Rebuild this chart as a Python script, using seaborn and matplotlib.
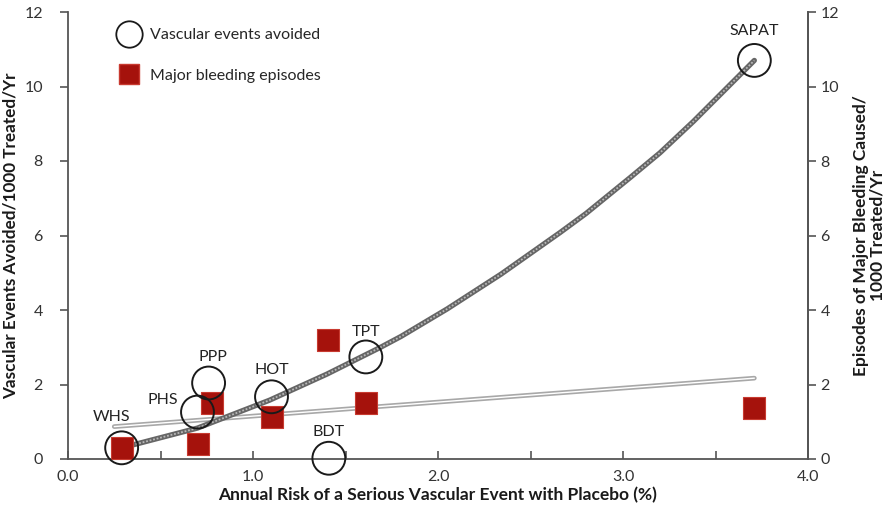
import matplotlib
matplotlib.use("Agg")
import matplotlib.pyplot as plt
import seaborn as sns
import pandas as pd
from matplotlib.lines import Line2D

# ---- data ----
trials = ["WHS", "PHS", "PPP", "HOT", "BDT", "TPT", "SAPAT"]
risk_events = [0.29, 0.70, 0.76, 1.10, 1.41, 1.61, 3.71]
events_avoided = [0.30, 1.26, 2.04, 1.67, 0.02, 2.74, 10.70]

risk_bleeding = [0.29, 0.70, 0.78, 1.10, 1.405, 1.61, 3.71]
bleeding = [0.30, 0.40, 1.50, 1.13, 3.19, 1.50, 1.37]

curve_x = [0.29, 0.70, 1.09, 1.40, 1.69, 1.80, 2.05, 2.34, 2.66, 2.80, 3.04, 3.20, 3.38, 3.71]
curve_y = [0.30, 0.83, 1.58, 2.28, 3.00, 3.29, 4.03, 4.96, 6.08, 6.59, 7.56, 8.22, 9.06, 10.70]

bleed_line_x = [0.25, 3.71]
bleed_line_y = [0.87, 2.17]

# label offsets in pixels (x, y)
label_offsets = [(-10, 31), (-35, 12), (4, 26), (0, 27), (0, 26), (0, 25), (0, 29)]

x_ticks = [0.0, 0.5, 1.0, 1.5, 2.0, 2.5, 3.0, 3.5, 4.0]
x_ticklabels = ["0.0", "", "1.0", "", "2.0", "", "3.0", "", "4.0"]
y_ticks = [0, 2, 4, 6, 8, 10, 12]

sns.set_style("white")
plt.rcParams["font.family"] = ["Lato", "DejaVu Sans"]

fig = plt.figure(figsize=(8.88, 5.13), dpi=100)
ax = fig.add_axes([68 / 888, 1 - 459 / 513, (808 - 68) / 888, (459 - 12) / 513])

df_curve = pd.DataFrame({"x": curve_x, "y": curve_y})
df_line = pd.DataFrame({"x": bleed_line_x, "y": bleed_line_y})
df_ev = pd.DataFrame({"x": risk_events, "y": events_avoided, "trial": trials})
df_bl = pd.DataFrame({"x": risk_bleeding, "y": bleeding})

# bleeding trend line (double gray line)
sns.lineplot(data=df_line, x="x", y="y", ax=ax, color="#a8a8a8", lw=3.4, zorder=2)
sns.lineplot(data=df_line, x="x", y="y", ax=ax, color="white", lw=1.0, zorder=2.1)

# events-avoided curve (rope-like gray)
sns.lineplot(data=df_curve, x="x", y="y", ax=ax, color="#666666", lw=3.8, zorder=3)
sns.lineplot(data=df_curve, x="x", y="y", ax=ax, color="#b8b8b8", lw=1.3,
             linestyle=(0, (1, 1)), zorder=3.1)

# bleeding squares
sns.scatterplot(data=df_bl, x="x", y="y", ax=ax, marker="s", s=230,
                color="#a5120c", edgecolor="#c83a30", linewidth=0.8, zorder=4,
                clip_on=False)

# events circles (open)
sns.scatterplot(data=df_ev, x="x", y="y", ax=ax, marker="o", s=560,
                facecolor="none", edgecolor="#1a1a1a", linewidth=1.4, zorder=5,
                clip_on=False)

for t, xx, yy, (dx, dy) in zip(trials, risk_events, events_avoided, label_offsets):
    ax.annotate(t, (xx, yy), xytext=(dx, dy), textcoords="offset pixels",
                ha="center", va="center", fontsize=11.5, color="#222222")

ax.set_xlim(0, 4.0)
ax.set_ylim(0, 12)
ax.set_xticks(x_ticks)
ax.set_xticklabels(x_ticklabels)
ax.set_yticks(y_ticks)

ax.spines["top"].set_visible(False)
for side in ["left", "bottom", "right"]:
    ax.spines[side].set_color("#555555")
    ax.spines[side].set_linewidth(1.3)

ax.tick_params(axis="x", direction="in", length=6, width=1.2, color="#555555",
               labelsize=11.5, labelcolor="#333333", pad=8, bottom=True)
ax.tick_params(axis="y", direction="out", length=6, width=1.2, color="#555555",
               labelsize=11.5, labelcolor="#333333", pad=12, left=True)

ax.set_xlabel("Annual Risk of a Serious Vascular Event with Placebo (%)",
              fontsize=12.5, fontweight="bold", color="#1a1a1a", labelpad=2)
ax.set_ylabel("Vascular Events Avoided/1000 Treated/Yr",
              fontsize=12.3, fontweight="bold", color="#1a1a1a", labelpad=4)

ax2 = ax.twinx()
ax2.set_ylim(0, 12)
ax2.set_yticks(y_ticks)
for side in ["top", "left", "bottom"]:
    ax2.spines[side].set_visible(False)
ax2.spines["right"].set_color("#555555")
ax2.spines["right"].set_linewidth(1.3)
ax2.tick_params(axis="y", direction="out", length=6, width=1.2, color="#555555",
                labelsize=11.5, labelcolor="#333333", pad=3, right=True)
ax2.set_ylabel("Episodes of Major Bleeding Caused/\n1000 Treated/Yr",
               fontsize=12.5, fontweight="bold", color="#1a1a1a", labelpad=10,
               linespacing=1.05)

handles = [
    Line2D([], [], marker="o", linestyle="none", markersize=19,
           markerfacecolor="none", markeredgecolor="#1a1a1a", markeredgewidth=1.3),
    Line2D([], [], marker="s", linestyle="none", markersize=14,
           markerfacecolor="#a5120c", markeredgecolor="#c83a30"),
]
ax.legend(handles, ["Vascular events avoided", "Major bleeding episodes"],
          loc="upper left", bbox_to_anchor=(0.056, 0.978), frameon=False,
          fontsize=11.5, labelspacing=1.65, handletextpad=0.55, borderaxespad=0,
          handlelength=1.6)

fig.savefig("out.png", dpi=100)
